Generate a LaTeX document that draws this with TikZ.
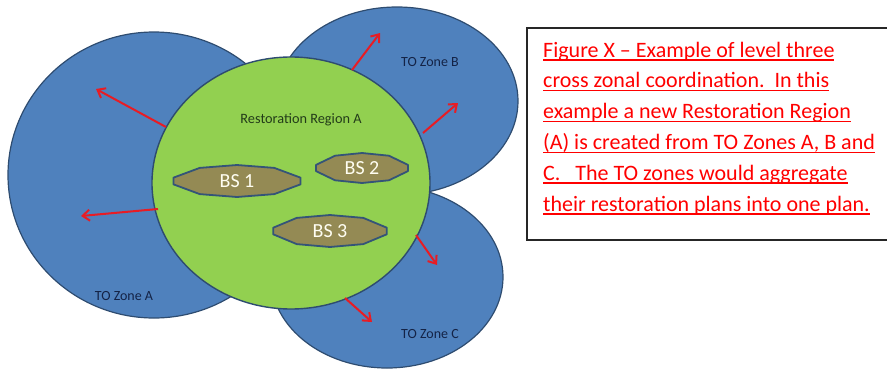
\documentclass[tikz,border=0pt]{standalone}
\usepackage{fontspec}
\setmainfont{Carlito}
\usetikzlibrary{arrows.meta,shapes.geometric}
\definecolor{zoneblue}{RGB}{79,129,189}
\definecolor{zoneline}{RGB}{46,76,112}
\definecolor{regiongreen}{RGB}{146,208,80}
\definecolor{bsfill}{RGB}{148,138,84}
\definecolor{bsline}{RGB}{52,84,120}
\definecolor{arrred}{RGB}{232,28,36}
\definecolor{zonetext}{RGB}{20,35,70}
\definecolor{regtext}{RGB}{35,60,25}
\definecolor{capred}{RGB}{255,0,0}
\newcommand\capul[1]{\setbox0\hbox{#1}\rlap{\rule[-3.6pt]{\wd0}{1.5pt}}\box0}
\newcommand\bspoly[6]{%
  \draw[bsshape] ({#1+#3*cos(12)},{#2+#4*sin(12)})
    -- ({#1+#3*cos(55)},{#2+#4*sin(55)})
    -- ({#1+#3*cos(90)},{#2+#4*sin(90)})
    -- ({#1+#3*cos(125)},{#2+#4*sin(125)})
    -- ({#1+#3*cos(168)},{#2+#4*sin(168)})
    -- ({#1+#3*cos(192)},{#2+#4*sin(192)})
    -- ({#1+#3*cos(235)},{#2+#4*sin(235)})
    -- ({#1+#3*cos(270)},{#2+#4*sin(270)})
    -- ({#1+#3*cos(305)},{#2+#4*sin(305)})
    -- ({#1+#3*cos(348)},{#2+#4*sin(348)}) -- cycle;
  \node[bslabel] (#5) at (#1,#2) {#6};}
\tikzset{
  zone/.style={ellipse, draw=zoneline, line width=1.2pt, fill=zoneblue, inner sep=0pt},
  region/.style={ellipse, draw=zoneline, line width=1.4pt, fill=regiongreen, inner sep=0pt},
  bsshape/.style={draw=bsline, line width=1.8pt, fill=bsfill, line join=round},
  bslabel/.style={text=white!95!yellow, font=\fontsize{20}{21}\selectfont, inner sep=0pt},
  zonelabel/.style={text=zonetext, font=\fontsize{14}{15}\selectfont},
  reglabel/.style={text=regtext, font=\fontsize{14.3}{15}\selectfont},
  arr/.style={draw=arrred, line width=2pt, -{Straight Barb[length=7pt,width=11pt]}},
  capline/.style={anchor=base west, inner sep=0pt, text=capred, font=\fontsize{22}{23}\selectfont},
  capbox/.style={draw=black!85, line width=1.6pt}
}
\begin{document}
\begin{tikzpicture}[x=1pt,y=-1pt]
\useasboundingbox (0,0) rectangle (887,370);
% zones
\node[zone, minimum width=292pt, minimum height=286pt] (zoneA) at (154,175) {};
\node[zone, minimum width=242pt, minimum height=188pt] (zoneB) at (397,101) {};
\node[zone, minimum width=232pt, minimum height=182pt] (zoneC) at (387,277) {};
% region
\node[region, minimum width=278pt, minimum height=252pt] (region) at (291,183) {};
% black start sites
\bspoly{237}{181}{65}{16}{bsa}{BS 1}
\bspoly{362}{168}{47}{15}{bsb}{BS 2}
\bspoly{330}{231}{58}{16}{bsc}{BS 3}
% labels
\node[zonelabel] (labA) at (124,296) {TO Zone A};
\node[zonelabel] (labB) at (430,62) {TO Zone B};
\node[zonelabel] (labC) at (430,334) {TO Zone C};
\node[reglabel] (labR) at (301,120) {Restoration Region A};
% arrows
\coordinate (a1s) at (166,127); \coordinate (a1e) at (96,89);
\coordinate (a2s) at (158,209); \coordinate (a2e) at (81,216);
\coordinate (b1s) at (352,70);  \coordinate (b1e) at (380,33);
\coordinate (b2s) at (423,133); \coordinate (b2e) at (458,103);
\coordinate (c1s) at (416,235); \coordinate (c1e) at (437,265);
\coordinate (c2s) at (345,298); \coordinate (c2e) at (372,322);
\draw[arr] (a1s) -- (a1e);
\draw[arr] (a2s) -- (a2e);
\draw[arr] (b1s) -- (b1e);
\draw[arr] (b2s) -- (b2e);
\draw[arr] (c1s) -- (c1e);
\draw[arr] (c2s) -- (c2e);
% caption box
\coordinate (boxtl) at (527,28); \coordinate (boxbr) at (892,240);
\draw[capbox] (boxtl) rectangle (boxbr);
\node[capline] (cap1) at (543,57) {\capul{Figure X – Example of level three}};
\node[capline] (cap2) at (543,87.7) {\capul{cross zonal coordination.\ \ In this}};
\node[capline] (cap3) at (543,118.5) {\capul{example a new Restoration Region}};
\node[capline] (cap4) at (543,149.4) {\capul{(A) is created from TO Zones A, B and}};
\node[capline] (cap5) at (543,180.2) {\capul{C.\ \ \ The TO zones would aggregate}};
\node[capline] (cap6) at (543,211) {\capul{their restoration plans into one plan.}};
\end{tikzpicture}
\end{document}
